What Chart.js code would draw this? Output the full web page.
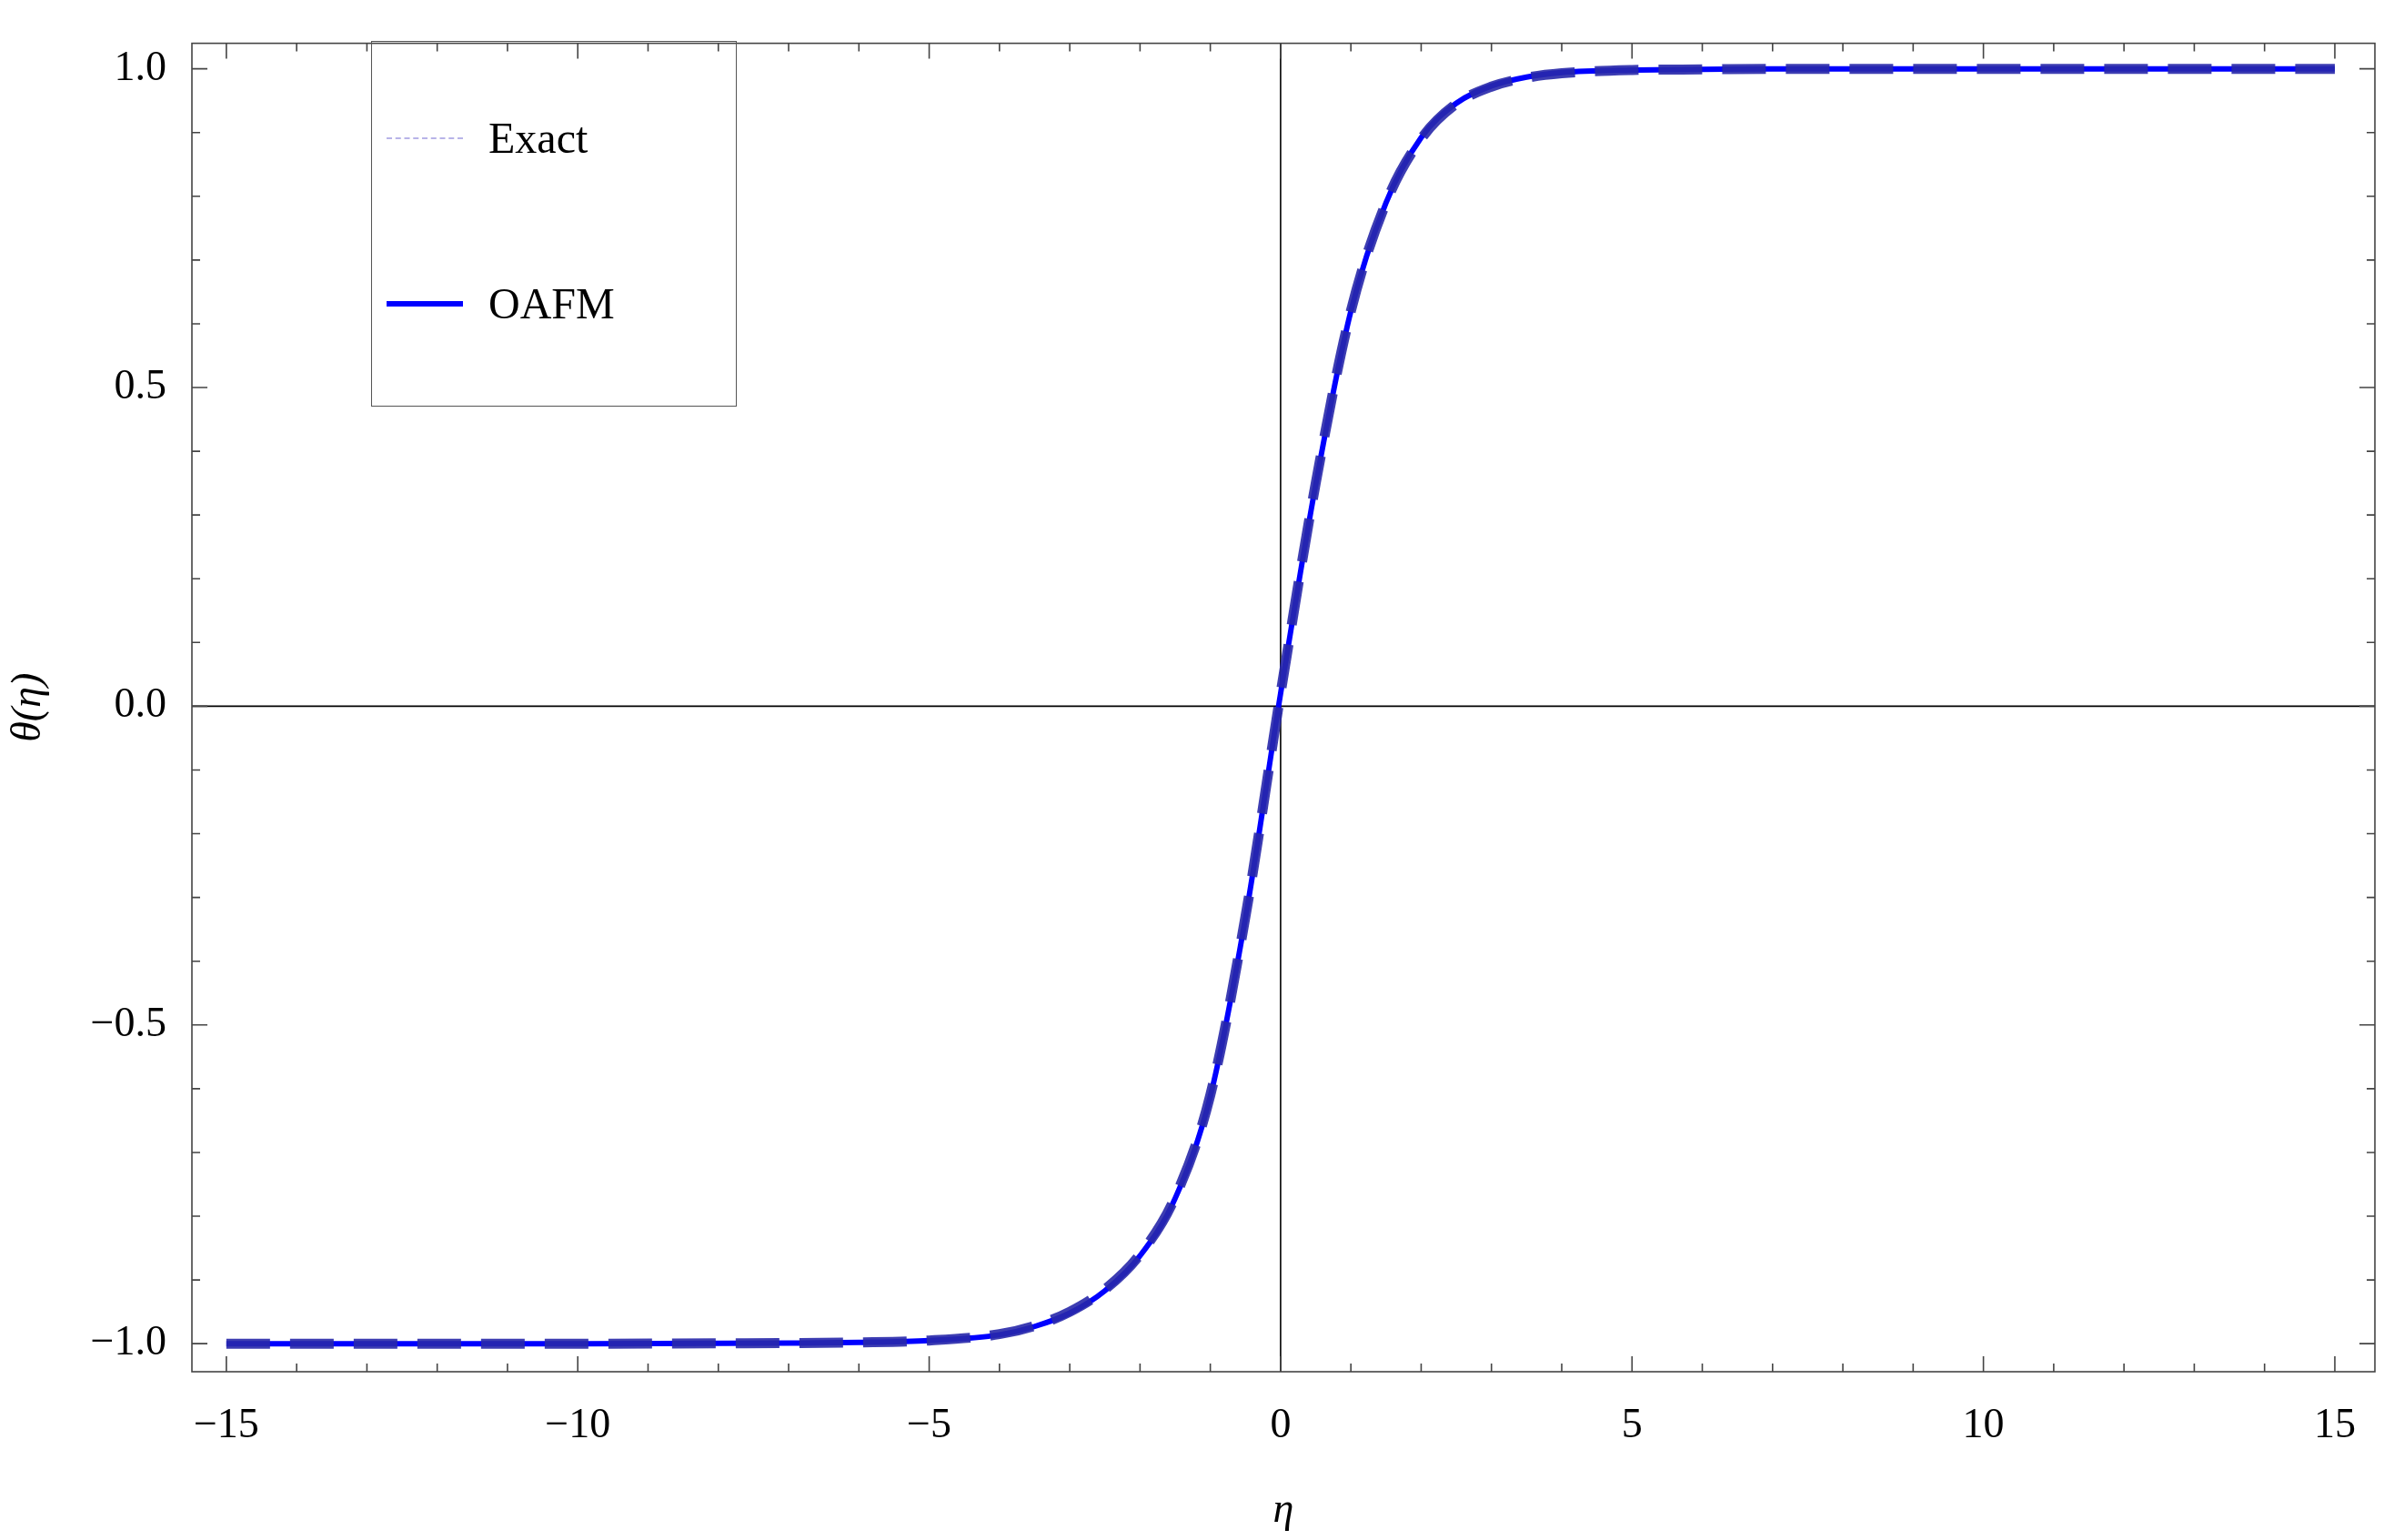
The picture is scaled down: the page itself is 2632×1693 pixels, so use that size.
<!DOCTYPE html>
<html><head><meta charset="utf-8">
<script src="https://cdn.jsdelivr.net/npm/chart.js@4"></script>
<style>
html,body{margin:0;padding:0;background:#fff;}
#wrap{position:relative;width:2632px;height:1693px;}
#legend{position:absolute;left:408px;top:45px;width:402px;height:402px;border:1.5px solid #555;box-sizing:border-box;font-family:"Liberation Serif",serif;font-size:48px;}
.item{position:absolute;left:16px;display:flex;align-items:center;}
.sw{width:84px;height:0;margin-right:28px;}
</style></head>
<body><div id="wrap"><canvas id="c" width="2632" height="1693"></canvas>
<div id="legend">
<div class="item" style="top:78px"><div class="sw" style="border-top:2px dashed #b8b4e8"></div><span>Exact</span></div>
<div class="item" style="top:260px"><div class="sw" style="border-top:6px solid #0000ff"></div><span>OAFM</span></div>
</div></div>
<script>
const eta = [-15,-10,-7,-6,-5,-4,-3.5,-3,-2.5,-2,-1.5,-1,-0.5,0,0.5,1,1.5,2,2.5,3,3.5,4,5,6,7,10,15];
const exact = [-1,-1,-0.999,-0.998,-0.995,-0.985,-0.972,-0.95,-0.915,-0.86,-0.77,-0.61,-0.33,0.02,0.35,0.62,0.79,0.89,0.945,0.972,0.986,0.993,0.998,0.999,1,1,1];
const oafm  = [-1,-1,-0.999,-0.998,-0.995,-0.986,-0.973,-0.952,-0.917,-0.862,-0.772,-0.612,-0.332,0.02,0.348,0.62,0.79,0.892,0.946,0.973,0.987,0.994,0.998,0.999,1,1,1];
const xMajor = [-15,-10,-5,0,5,10,15];
const yMajor = [-1,-0.5,0,0.5,1];
const FONT = '"Liberation Serif", serif';
function fmtX(v){return v<0?'\u2212'+Math.abs(v):String(v);}
function fmtY(v){const s=Math.abs(v).toFixed(1);return v<-1e-9?'\u2212'+s:s;}
const isMaj=(arr,v)=>arr.some(a=>Math.abs(a-v)<1e-6);
const frame = {
 id:'frame',
 beforeDatasetsDraw(ch){
  const {ctx,chartArea:a,scales:{x,y}}=ch;
  ctx.save();ctx.strokeStyle='#000';ctx.lineWidth=1.6;
  ctx.beginPath();
  const x0=x.getPixelForValue(0),y0=y.getPixelForValue(0);
  ctx.moveTo(x0,a.top);ctx.lineTo(x0,a.bottom);
  ctx.moveTo(a.left,y0);ctx.lineTo(a.right,y0);
  ctx.stroke();ctx.restore();
 },
 afterDraw(ch){
  const {ctx,chartArea:a,scales:{x,y}}=ch;
  ctx.save();ctx.strokeStyle='#444';ctx.lineWidth=1.6;
  ctx.strokeRect(a.left,a.top,a.right-a.left,a.bottom-a.top);
  ctx.beginPath();
  x.ticks.forEach(t=>{const p=x.getPixelForValue(t.value);const L=isMaj(xMajor,t.value)?17:9;
   ctx.moveTo(p,a.bottom);ctx.lineTo(p,a.bottom-L);ctx.moveTo(p,a.top);ctx.lineTo(p,a.top+L);});
  y.ticks.forEach(t=>{const p=y.getPixelForValue(t.value);const L=isMaj(yMajor,t.value)?17:9;
   ctx.moveTo(a.left,p);ctx.lineTo(a.left+L,p);ctx.moveTo(a.right,p);ctx.lineTo(a.right-L,p);});
  ctx.stroke();ctx.restore();
 }
};
new Chart(document.getElementById('c'),{
 type:'line',
 data:{datasets:[
  {label:'Exact',data:eta.map((e,i)=>({x:e,y:exact[i]})),borderColor:'rgba(40,40,170,0.9)',borderWidth:11,borderDash:[48,22],pointRadius:0,cubicInterpolationMode:'monotone',fill:false},
  {label:'OAFM',data:eta.map((e,i)=>({x:e,y:oafm[i]})),borderColor:'#0000ff',borderWidth:6,pointRadius:0,cubicInterpolationMode:'monotone',fill:false}
 ]},
 options:{responsive:false,animation:false,
  layout:{padding:{top:0,right:21,left:0,bottom:0}},
  plugins:{legend:{display:false},tooltip:{enabled:false}},
  scales:{
   x:{type:'linear',min:-15.49,max:15.57,afterBuildTicks(s){const t=[];for(let v=-15;v<=15;v++)t.push({value:v});s.ticks=t;},
      grid:{display:false},border:{display:false},
      ticks:{autoSkip:false,maxRotation:0,padding:24,color:'#000',font:{family:FONT,size:46},callback:v=>isMaj(xMajor,v)?fmtX(v):''},
      title:{display:true,text:'η',color:'#000',font:{family:FONT,size:46,style:'italic'},padding:{top:36}},
      afterFit(s){s.height=185;}},
   y:{type:'linear',min:-1.044,max:1.04,afterBuildTicks(s){const t=[];for(let i=-10;i<=10;i++)t.push({value:i/10});s.ticks=t;},
      grid:{display:false},border:{display:false},
      ticks:{autoSkip:false,padding:20,color:'#000',font:{family:FONT,size:46},callback:v=>isMaj(yMajor,v)?fmtY(v):''},
      title:{display:true,text:'θ(η)',color:'#000',font:{family:FONT,size:46,style:'italic'},padding:{bottom:8}},
      afterFit(s){s.width=211;}}
  }},
 plugins:[frame]
});
</script></body></html>
